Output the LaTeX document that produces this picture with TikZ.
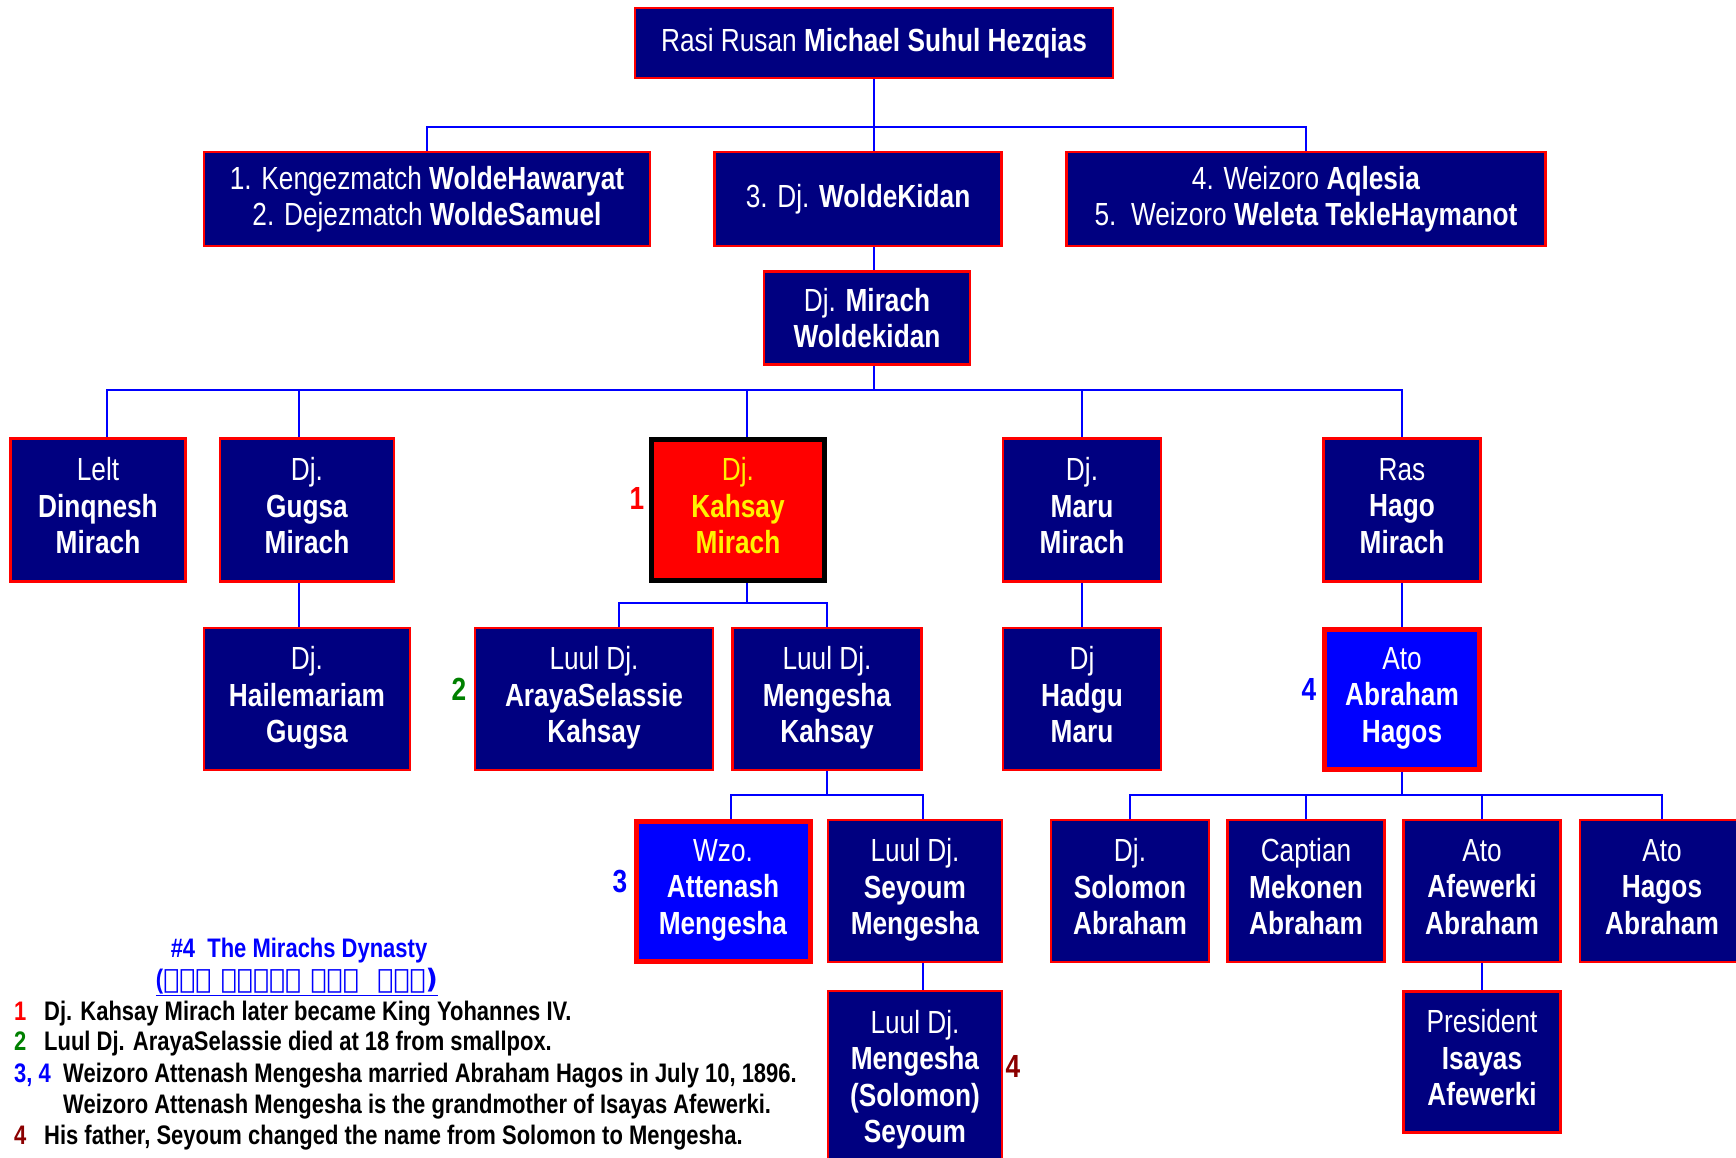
\documentclass[tikz,border=0pt]{standalone}
\usepackage{fontspec}
\setmainfont[FakeStretch=0.82]{Liberation Sans}
\newfontfamily\ethfont{DejaVu Sans}
\usetikzlibrary{positioning}
\definecolor{boxnavy}{HTML}{000080}
\definecolor{tagred}{HTML}{FF0000}
\definecolor{taggreen}{HTML}{008000}
\definecolor{tagmaroon}{HTML}{8B0000}
\tikzset{
  person/.style={draw=red, fill=boxnavy, line width=2.5pt, text=white, align=center,
    inner sep=0pt, font=\fontsize{32}{36.5}\selectfont},
  member/.style={person, text depth=9pt},
  boxsize/.style 2 args={minimum width=#1pt, minimum height=#2pt},
  hilite/.style={member, fill=blue, line width=5pt},
  king/.style={member, fill=red, draw=black, line width=5pt, text=yellow},
  link/.style={draw=blue, line width=2.5pt},
  numtag/.style={inner sep=0pt, font=\fontsize{32}{36}\selectfont\bfseries},
  note/.style={anchor=base west, inner sep=0pt, font=\fontsize{26.8}{30}\selectfont\bfseries},
}
\begin{document}
\begin{tikzpicture}[x=1pt, y=-1pt]
  \useasboundingbox (0,0) rectangle (1736,1157);
  % top generations
  \node[person, boxsize={478}{70}] (rasi) at (874,43) {Rasi Rusan \textbf{Michael Suhul Hezqias}};
  \node[person, boxsize={446}{94}] (kenge) at (427,199) {1. Kengezmatch \textbf{WoldeHawaryat}\\2. Dejezmatch \textbf{WoldeSamuel}};
  \node[person, boxsize={287}{94}] (woldekidan) at (858,199) {3. Dj. \textbf{WoldeKidan}};
  \node[person, boxsize={479}{94}] (aqlesia) at (1306,199) {4. Weizoro \textbf{Aqlesia}\\5.~~Weizoro \textbf{Weleta TekleHaymanot}};
  \node[person, boxsize={206}{93}] (mirach) at (867,318) {Dj. \textbf{Mirach}\\\textbf{Woldekidan}};
  % children of Mirach
  \node[member, boxsize={175}{143}] (dinqnesh) at (98,510) {Lelt\\\textbf{Dinqnesh}\\\textbf{Mirach}};
  \node[member, boxsize={174}{143}] (gugsa) at (307,510) {Dj.\\\textbf{Gugsa}\\\textbf{Mirach}};
  \node[king, boxsize={173}{141}] (kahsay) at (738,510) {Dj.\\\textbf{Kahsay}\\\textbf{Mirach}};
  \node[member, boxsize={158}{143}] (maru) at (1082,510) {Dj.\\\textbf{Maru}\\\textbf{Mirach}};
  \node[member, boxsize={157}{143}] (hago) at (1402,510) {Ras\\\textbf{Hago}\\\textbf{Mirach}};
  % grandchildren
  \node[member, boxsize={206}{142}] (hailemariam) at (307,699) {Dj.\\\textbf{Hailemariam}\\\textbf{Gugsa}};
  \node[member, boxsize={238}{142}] (araya) at (594,699) {Luul Dj.\\\textbf{ArayaSelassie}\\\textbf{Kahsay}};
  \node[member, boxsize={189}{142}] (mengesha) at (827,699) {Luul Dj.\\\textbf{Mengesha}\\\textbf{Kahsay}};
  \node[member, boxsize={158}{142}] (hadgu) at (1082,699) {Dj\\\textbf{Hadgu}\\\textbf{Maru}};
  \node[hilite, boxsize={155}{140}] (abraham) at (1402,699) {Ato\\\textbf{Abraham}\\\textbf{Hagos}};
  % next generation
  \node[hilite, boxsize={174}{140}] (attenash) at (723,891) {Wzo.\\\textbf{Attenash}\\\textbf{Mengesha}};
  \node[member, boxsize={174}{142}] (seyoum) at (915,891) {Luul Dj.\\\textbf{Seyoum}\\\textbf{Mengesha}};
  \node[member, boxsize={158}{142}] (solomon) at (1130,891) {Dj.\\\textbf{Solomon}\\\textbf{Abraham}};
  \node[member, boxsize={157}{142}] (mekonen) at (1306,891) {Captian\\\textbf{Mekonen}\\\textbf{Abraham}};
  \node[member, boxsize={157}{142}] (afewerki) at (1482,891) {Ato\\\textbf{Afewerki}\\\textbf{Abraham}};
  \node[member, boxsize={164}{142}] (hagos) at (1662,891) {Ato\\\textbf{Hagos}\\\textbf{Abraham}};
  \node[member, boxsize={174}{180}] (mengsol) at (915,1081) {Luul Dj.\\\textbf{Mengesha}\\\textbf{(Solomon)}\\\textbf{Seyoum}};
  \node[member, boxsize={157}{141}] (president) at (1482,1062) {President\\\textbf{Isayas}\\\textbf{Afewerki}};
  % connectors
  \coordinate (bus1) at (874,127);
  \draw[link] (rasi.south) -- (bus1);
  \draw[link] (bus1) -| (kenge.north);
  \draw[link] (bus1) -| (aqlesia.north);
  \draw[link] (bus1) -- (bus1 |- woldekidan.north);
  \draw[link] (woldekidan.south -| bus1) -- (mirach.north -| bus1);
  \coordinate (bus2) at (874,390);
  \draw[link] (mirach.south -| bus2) -- (bus2);
  \foreach \kid/\dx in {dinqnesh/9,gugsa/-8,kahsay/9,maru/0,hago/0}
    \draw[link] (bus2) -| ([xshift=\dx pt]\kid.north);
  \draw[link] ([xshift=-8pt]gugsa.south) -- ([xshift=-8pt]gugsa.south |- hailemariam.north);
  \coordinate (bus3) at (747,603);
  \draw[link] (kahsay.south -| bus3) -- (bus3);
  \draw[link] (bus3) -| ([xshift=25pt]araya.north);
  \draw[link] (bus3) -| (mengesha.north);
  \draw[link] (maru.south) -- (hadgu.north);
  \draw[link] (hago.south) -- (abraham.north);
  \coordinate (bus4) at (827,795);
  \draw[link] (mengesha.south) -- (bus4);
  \draw[link] (bus4) -| ([xshift=8pt]attenash.north);
  \draw[link] (bus4) -| ([xshift=8pt]seyoum.north);
  \draw[link] ([xshift=8pt]seyoum.south) -- ([xshift=8pt]mengsol.north);
  \coordinate (bus5) at (1402,795);
  \draw[link] (abraham.south) -- (bus5);
  \foreach \kid in {solomon,mekonen,afewerki,hagos}
    \draw[link] (bus5) -| (\kid.north);
  \draw[link] (afewerki.south) -- (president.north);
  % numbered tags
  \node[numtag, text=tagred] (tag1) at (637,498) {1};
  \node[numtag, text=taggreen] (tag2) at (459,689) {2};
  \node[numtag, text=blue] (tag3) at (620,881) {3};
  \node[numtag, text=blue] (tag4a) at (1309,689) {4};
  \node[numtag, text=tagmaroon] (tag4b) at (1013,1066) {4};
  % legend
  \node[text=blue, font=\fontsize{26.8}{30}\selectfont\bfseries] (title) at (299,951) {\#4~~The Mirachs Dynasty};
  \node[text=blue, font=\fontsize{26.8}{30}\selectfont\bfseries] (ethtitle) at (297,982) {\underline{(\ethfont ስርወ ንግስነት እንዳ~~ምራጭ)}};
  \node[note, text=tagred] (n1) at (14,1020) {1};
  \node[note] (t1) at (44,1020) {Dj. Kahsay Mirach later became King Yohannes IV.};
  \node[note, text=taggreen] (n2) at (14,1050) {2};
  \node[note] (t2) at (44,1050) {Luul Dj. ArayaSelassie died at 18 from smallpox.};
  \node[note, text=blue] (n3) at (14,1082) {3, 4};
  \node[note] (t3) at (63,1082) {Weizoro Attenash Mengesha married Abraham Hagos in July 10, 1896.};
  \node[note] (t3b) at (63,1113) {Weizoro Attenash Mengesha is the grandmother of Isayas Afewerki.};
  \node[note, text=tagmaroon] (n4) at (14,1144) {4};
  \node[note] (t4) at (44,1144) {His father, Seyoum changed the name from Solomon to Mengesha.};
\end{tikzpicture}
\end{document}
